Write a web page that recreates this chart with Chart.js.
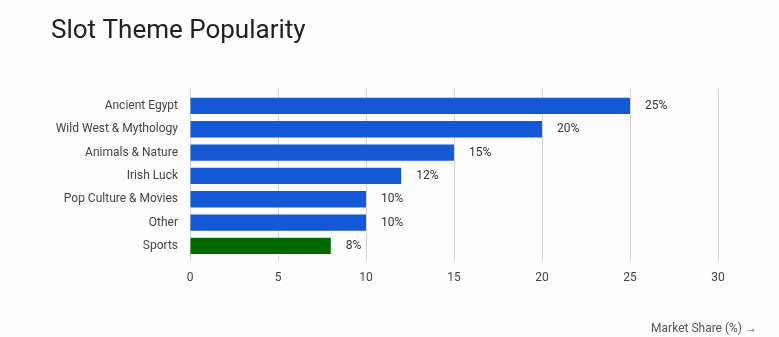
<!DOCTYPE html>
<html>
<head>
<meta charset="utf-8">
<script src="https://cdn.jsdelivr.net/npm/chart.js@4"></script>
<style>
  html, body { margin: 0; padding: 0; background: #fdfdfd; }
  #wrap { width: 779px; height: 337px; }
</style>
</head>
<body>
<div id="wrap"><canvas id="barChart"></canvas></div>
<script>
const themes = ['Ancient Egypt', 'Wild West & Mythology', 'Animals & Nature', 'Irish Luck', 'Pop Culture & Movies', 'Other', 'Sports'];
const marketShare = [25, 20, 15, 12, 10, 10, 8];
const barColors = ['#1558d6', '#1558d6', '#1558d6', '#1558d6', '#1558d6', '#1558d6', '#006a00'];
const xTicks = [0, 5, 10, 15, 20, 25, 30];

const FONT = 'Roboto, "Open Sans", sans-serif';

// value labels at the end of each bar + grid top extension + axis title
const extras = {
    id: 'extras',
    beforeDatasetsDraw(chart) {
        const ctx = chart.ctx, x = chart.scales.x, top = chart.chartArea.top;
        ctx.save();
        ctx.strokeStyle = '#d3d3d3';
        ctx.lineWidth = 1;
        for (const t of xTicks) {
            const px = Math.round(x.getPixelForValue(t)) + 0.5;
            ctx.beginPath();
            ctx.moveTo(px, top - 5);
            ctx.lineTo(px, top);
            ctx.stroke();
        }
        ctx.restore();
    },
    afterDatasetsDraw(chart) {
        const ctx = chart.ctx;
        const meta = chart.getDatasetMeta(0);
        ctx.save();
        ctx.font = '12px ' + FONT;
        ctx.fillStyle = '#333';
        ctx.textBaseline = 'middle';
        ctx.textAlign = 'left';
        meta.data.forEach((bar, i) => {
            ctx.fillText(marketShare[i] + '%', bar.x + 15, bar.y);
        });
        ctx.fillStyle = '#555';
        ctx.textAlign = 'right';
        ctx.fillText('Market Share (%) \u2192', chart.width - 22, 329);
        ctx.restore();
    }
};

const barChart = document.getElementById('barChart').getContext('2d');
const barChartConfig = new Chart(barChart, {
    type: 'bar',
    data: {
        labels: themes,
        datasets: [{
            data: marketShare,
            backgroundColor: barColors,
            borderWidth: 0,
            barPercentage: 0.7,
            categoryPercentage: 1
        }]
    },
    plugins: [extras],
    options: {
        indexAxis: 'y',
        responsive: true,
        maintainAspectRatio: false,
        animation: false,
        layout: { padding: { left: 51, right: 61, top: 0, bottom: 43 } },
        plugins: {
            legend: { display: false },
            tooltip: { enabled: false },
            title: {
                display: true,
                text: 'Slot Theme Popularity',
                align: 'start',
                color: '#202124',
                font: { family: FONT, size: 26, weight: 'normal' },
                padding: { top: 16, bottom: 47 }
            }
        },
        scales: {
            x: {
                min: 0,
                max: 30,
                ticks: {
                    stepSize: 5,
                    color: '#444',
                    font: { family: FONT, size: 12 },
                    padding: 9
                },
                grid: { color: '#d3d3d3', tickLength: 4, drawTicks: true },
                border: { display: false }
            },
            y: {
                afterFit(scale) { scale.width = 139; },
                ticks: {
                    color: '#444',
                    font: { family: FONT, size: 12 },
                    padding: 12
                },
                grid: { display: false, drawTicks: false },
                border: { display: false }
            }
        }
    }
});
</script>
</body>
</html>
